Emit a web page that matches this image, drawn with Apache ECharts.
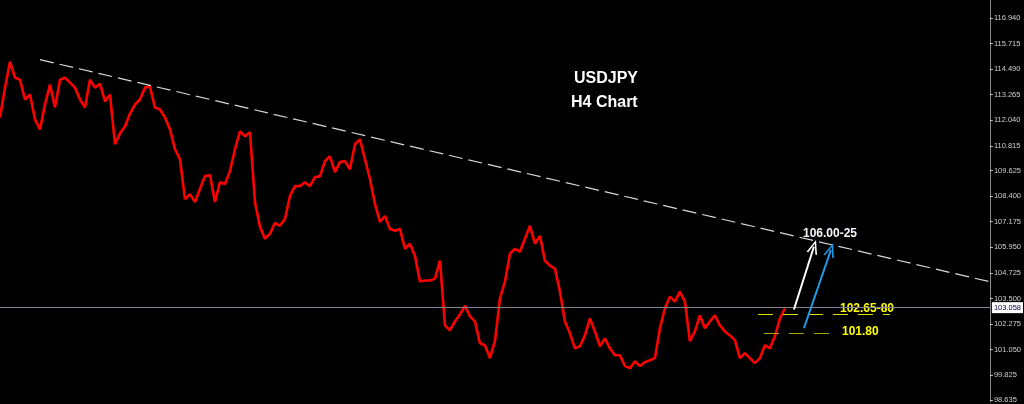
<!DOCTYPE html>
<html>
<head>
<meta charset="utf-8">
<script src="https://cdn.jsdelivr.net/npm/echarts@6/dist/echarts.min.js"></script>
<style>
html,body{margin:0;padding:0;background:#000;}
#c{width:1024px;height:404px;}
</style>
</head>
<body>
<div id="c"></div>
<script>
// H4 closes, one sample per bar-step (index)
const prices = [
 112.17,113.60,114.84,114.08,113.98,113.03,113.27,112.08,111.60,112.79,
 113.75,112.65,113.98,114.08,113.84,113.60,113.03,112.65,113.98,113.60,
 113.79,112.94,113.27,110.89,111.41,111.74,112.36,112.79,113.03,113.60,
 113.65,112.65,112.55,112.17,111.60,110.65,110.17,108.26,108.50,108.12,
 108.74,109.36,109.41,108.12,109.07,108.98,109.60,110.65,111.51,111.27,
 111.46,108.12,106.93,106.36,106.60,107.12,106.98,107.31,108.41,108.88,
 108.88,109.07,108.88,109.31,109.36,110.08,110.31,109.55,110.03,110.08,
 109.69,110.89,111.12,110.17,109.22,108.03,107.17,107.45,106.83,106.74,
 106.83,105.88,106.12,105.55,104.31,104.36,104.36,104.45,105.31,102.21,
 101.97,102.40,102.73,103.16,102.64,102.40,101.35,101.26,100.64,101.45,
 103.50,104.31,105.64,105.88,105.74,106.36,106.98,106.12,106.50,105.31,
 105.07,104.93,103.83,102.40,101.83,101.11,101.21,101.73,102.54,101.92,
 101.21,101.59,101.11,100.78,100.78,100.26,100.16,100.49,100.26,100.45,
 100.54,100.64,102.07,103.02,103.59,103.35,103.83,103.35,101.45,101.92,
 102.69,102.07,102.40,102.69,102.21,101.92,101.73,101.50,100.64,100.88,
 100.64,100.40,100.64,101.26,101.11,101.69,102.54,103.02
];
const tickValues = [116.940,115.715,114.490,113.265,112.040,110.815,109.625,108.400,107.175,105.950,104.725,103.500,102.275,101.050,99.825,98.635];
const currentPrice = 103.058;
// trendline: [index, price] endpoints
const trendStart = [8, 114.94];
const trendEnd = [198, 104.30];
// support levels: [fromIndex, toIndex, price]
const support1 = [151.6, 178, 102.73];
const support2 = [152.8, 166.6, 101.83];
// projection arrows: [fromIndex, fromPrice, toIndex, toPrice]
const arrowWhite = [158.8, 102.97, 162.8, 105.98];
const arrowBlue = [160.8, 102.07, 166.2, 105.83];
const titleLines = ['USDJPY', 'H4 Chart'];
const targetText = '106.00-25';
const level1Text = '102.65-80';
const level2Text = '101.80';

const chart = echarts.init(document.getElementById('c'), null, {renderer:'canvas'});
const chev = 'path://M0,12 L5,0 L10,12 L8.4,12 L5,3.4 L1.6,12 Z';
chart.setOption({
  backgroundColor:'#000',
  animation:false,
  grid:{left:0,right:33,top:0,bottom:0},
  xAxis:{type:'value',min:0,max:198,show:false},
  yAxis:{
    type:'value',position:'right',min:98.539,max:117.798,
    splitLine:{show:false},
    axisLine:{show:true,onZero:false,lineStyle:{color:'#8a8a8a',width:1}},
    axisTick:{show:true,length:3,customValues:tickValues,lineStyle:{color:'#c0c0c0'}},
    axisLabel:{show:true,customValues:tickValues,margin:4,color:'#d0d0d0',fontSize:7.5,
      fontFamily:'Liberation Sans, Arial',formatter:v=>v.toFixed(3)}
  },
  series:[
    {
      type:'line',
      data:prices.map((p,i)=>[i,p]),
      showSymbol:false,
      lineStyle:{color:'#ff0000',width:2.6},
      markLine:{
        silent:true,symbol:['none','none'],
        data:[
          [{coord:trendStart,lineStyle:{color:'#d8d8d8',width:1.2,type:[14,6]}},{coord:trendEnd}],
          {yAxis:currentPrice,lineStyle:{color:'#80808e',width:1,type:'solid'},
           label:{show:true,position:'end',distance:2,formatter:currentPrice.toFixed(3),
             backgroundColor:'#ffffff',color:'#000040',fontSize:7.5,fontFamily:'Liberation Sans, Arial',padding:[2,2,1,2]}},
          [{coord:[support1[0],support1[2]],lineStyle:{color:'#e0e000',width:1,type:[15,10]}},{coord:[support1[1],support1[2]]}],
          [{coord:[support2[0],support2[2]],lineStyle:{color:'#a8a800',width:1,type:[15,10]}},{coord:[support2[1],support2[2]]}],
          [{coord:[arrowWhite[0],arrowWhite[1]],symbol:'none',lineStyle:{color:'#ffffff',width:2,type:'solid'}},
           {coord:[arrowWhite[2],arrowWhite[3]],symbol:chev,symbolSize:[11,14]}],
          [{coord:[arrowBlue[0],arrowBlue[1]],symbol:'none',lineStyle:{color:'#1e9be6',width:2,type:'solid'}},
           {coord:[arrowBlue[2],arrowBlue[3]],symbol:chev,symbolSize:[11,14]}]
        ],
        label:{show:false}
      }
    }
  ],
  graphic:[
    {type:'text',left:574,top:71,style:{text:titleLines[0],fill:'#fff',font:'bold 16px "Liberation Sans", Arial'}},
    {type:'text',left:571,top:95,style:{text:titleLines[1],fill:'#fff',font:'bold 16px "Liberation Sans", Arial'}},
    {type:'text',left:803,top:228,style:{text:targetText,fill:'#f4f8ff',font:'bold 12px "Liberation Sans", Arial'}},
    {type:'text',left:840,top:303,style:{text:level1Text,fill:'#ffff00',font:'bold 12px "Liberation Sans", Arial'}},
    {type:'text',left:842,top:326,style:{text:level2Text,fill:'#ffff00',font:'bold 12px "Liberation Sans", Arial'}}
  ]
});
</script>
</body>
</html>
